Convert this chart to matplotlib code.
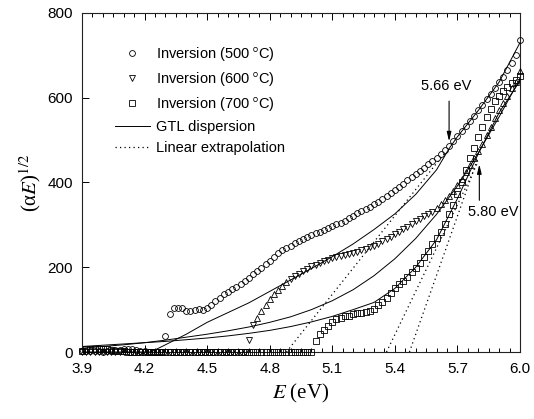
import numpy as np
import matplotlib.pyplot as plt
from matplotlib.font_manager import FontProperties
from matplotlib.lines import Line2D

plt.rcParams['font.family'] = ['Liberation Sans', 'DejaVu Sans']

# photon energy grid of the measured points (eV)
energy = [3.90, 3.92, 3.94, 3.96, 3.98, 4.00, 4.02, 4.04, 4.06, 4.08,
          4.10, 4.12, 4.14, 4.16, 4.18, 4.20, 4.22, 4.24, 4.26, 4.28,
          4.30, 4.32, 4.34, 4.36, 4.38, 4.40, 4.42, 4.44, 4.46, 4.48,
          4.50, 4.52, 4.54, 4.56, 4.58, 4.60, 4.62, 4.64, 4.66, 4.68,
          4.70, 4.72, 4.74, 4.76, 4.78, 4.80, 4.82, 4.84, 4.86, 4.88,
          4.90, 4.92, 4.94, 4.96, 4.98, 5.00, 5.02, 5.04, 5.06, 5.08,
          5.10, 5.12, 5.14, 5.16, 5.18, 5.20, 5.22, 5.24, 5.26, 5.28,
          5.30, 5.32, 5.34, 5.36, 5.38, 5.40, 5.42, 5.44, 5.46, 5.48,
          5.50, 5.52, 5.54, 5.56, 5.58, 5.60, 5.62, 5.64, 5.66, 5.68,
          5.70, 5.72, 5.74, 5.76, 5.78, 5.80, 5.82, 5.84, 5.86, 5.88,
          5.90, 5.92, 5.94, 5.96, 5.98, 6.00]

# (alpha E)^1/2 from inversion
inv_500 = [2, 3, 3, 2, 2, 1, 2, 3, 4, 5,
           6, 7, 8, 5, 3, 2, 1, 1, 0, 0,
           37, 89, 103, 104, 103, 97, 97, 100, 102, 100,
           103, 112, 120, 128, 136, 142, 148, 154, 161, 167,
           175, 183, 191, 199, 207, 215, 225, 233, 240, 246,
           251, 257, 262, 267, 271, 276, 280, 284, 288, 292,
           297, 301, 305, 310, 316, 322, 327, 332, 338, 343,
           349, 355, 361, 368, 375, 382, 389, 397, 405, 412,
           420, 428, 435, 443, 450, 458, 467, 476, 487, 498,
           509, 521, 533, 545, 557, 570, 583, 596, 609, 622,
           636, 650, 665, 682, 702, 737]

inv_600 = [0, 0, 0, 0, 0, 0, 0, 0, 0, 0,
           0, 0, 0, 0, 0, 0, 0, 0, 0, 0,
           0, 0, 0, 0, 0, 0, 0, 0, 0, 0,
           0, 0, 0, 0, 0, 0, 0, 0, 0, 0,
           28, 63, 81, 97, 112, 124, 136, 146, 156, 165,
           173, 179, 185, 191, 196, 202, 206, 210, 214, 218,
           221, 225, 227, 229, 232, 234, 237, 240, 243, 247,
           251, 256, 261, 267, 272, 278, 284, 290, 296, 302,
           308, 314, 320, 326, 331, 340, 350, 358, 368, 380,
           393, 408, 424, 441, 457, 474, 492, 512, 532, 552,
           570, 588, 605, 622, 638, 662]

inv_700 = [3, 6, 8, 8, 8, 7, 6, 4, 3, 2,
           2, 1, 1, 1, 1, 1, 0, 0, 0, 0,
           0, 0, 0, 0, 0, 0, 0, 0, 0, 0,
           0, 0, 0, 0, 0, 0, 0, 0, 0, 0,
           0, 0, 0, 0, 0, 0, 0, 0, 0, 0,
           0, 0, 0, 0, 0, 0, 25, 42, 53, 62,
           70, 77, 81, 84, 86, 89, 91, 93, 94, 97,
           102, 110, 119, 128, 140, 152, 160, 168, 177, 188,
           199, 211, 225, 239, 254, 268, 283, 302, 325, 348,
           374, 402, 430, 458, 482, 507, 531, 554, 574, 592,
           605, 616, 626, 635, 643, 651]

# GTL dispersion fits
gtl_500_E = [3.90, 4.23, 4.30, 4.40, 4.50, 4.60, 4.70, 4.80, 4.90, 5.00,
             5.10, 5.20, 5.30, 5.40, 5.50, 5.60, 5.66, 5.70, 5.80, 5.90, 6.00]
gtl_500 = [0, 0, 17, 42, 70, 93, 116, 143, 170, 197,
           225, 255, 289, 326, 372, 430, 480, 508, 570, 637, 730]

gtl_600_E = [3.90, 4.00, 4.10, 4.20, 4.30, 4.40, 4.50, 4.60, 4.70, 4.80,
             4.90, 5.00, 5.10, 5.20, 5.30, 5.40, 5.50, 5.60, 5.70, 5.75,
             5.80, 5.90, 6.00]
gtl_600 = [9, 13, 17, 22, 28, 35, 42, 50, 59, 70,
           83, 100, 121, 147, 180, 220, 268, 325, 392, 430,
           470, 555, 645]

gtl_700_E = [3.90, 4.00, 4.10, 4.20, 4.30, 4.40, 4.50, 4.60, 4.70, 4.80,
             4.90, 5.00, 5.10, 5.20, 5.30, 5.40, 5.50, 5.60, 5.70, 5.80,
             5.90, 6.00]
gtl_700 = [13, 16, 19, 22, 25, 29, 33, 38, 44, 51,
           60, 71, 84, 100, 117, 150, 200, 265, 362, 468,
           565, 640]

# linear extrapolations (Tauc lines)
lin_500_E = [4.88, 5.64]
lin_500 = [0, 470]
lin_600_E = [5.36, 5.80]
lin_600 = [0, 450]
lin_700_E = [5.47, 5.80]
lin_700 = [0, 460]

labels = ['Inversion (500 $^{\\rm o}$C)', 'Inversion (600 $^{\\rm o}$C)',
          'Inversion (700 $^{\\rm o}$C)', 'GTL dispersion', 'Linear extrapolation']

fig = plt.figure(figsize=(5.34, 4.19), dpi=100)
ax = fig.add_axes([82 / 534, 1 - 352 / 419, 438 / 534, 339 / 419])

lw_fit = 0.7
for e, v in [(gtl_500_E, gtl_500), (gtl_600_E, gtl_600), (gtl_700_E, gtl_700)]:
    ax.plot(e, v, color='k', lw=lw_fit, zorder=2)
dots = (0, (1, 2.6))
for e, v in [(lin_500_E, lin_500), (lin_600_E, lin_600), (lin_700_E, lin_700)]:
    ax.plot(e, v, color='k', lw=0.9, linestyle=dots, zorder=2)

E = np.array(energy)
mk = dict(mfc='none', mec='k', mew=0.6, ls='none', clip_on=False, zorder=3)
ax.plot(E, inv_500, marker='o', ms=4.2, **mk)
ax.plot(E, inv_700, marker='s', ms=3.9, **mk)
# triangles read as pointing up on the steep parts
up = ((E > 4.735) & (E < 4.885)) | (E > 5.595)
v600 = np.array(inv_600)
ax.plot(E[~up], v600[~up], marker='v', ms=4.1, **mk)
ax.plot(E[up], v600[up], marker='^', ms=4.1, **mk)

ax.set_xlim(3.9, 6.0)
ax.set_ylim(0, 800)
ax.set_xticks([3.9, 4.2, 4.5, 4.8, 5.1, 5.4, 5.7, 6.0])
ax.set_xticklabels(['3.9', '4.2', '4.5', '4.8', '5.1', '5.4', '5.7', '6.0'])
ax.set_xticks(np.arange(3.9, 6.001, 0.05), minor=True)
ax.set_yticks([0, 200, 400, 600, 800])
ax.tick_params(which='both', direction='in', top=True, right=False, labelsize=11,
               width=0.7, colors='k')
ax.tick_params(which='major', length=5)
ax.tick_params(axis='x', which='major', pad=7.5)
ax.tick_params(axis='y', which='major', pad=6.5)
ax.tick_params(which='minor', length=3)
for s in ax.spines.values():
    s.set_linewidth(0.8)
    s.set_color('#222222')

ax.set_xlabel('$E$ (eV)', family='Liberation Serif', fontsize=15,
              math_fontfamily='stix', labelpad=4)
ax.set_ylabel('(α$E$)$^{\\mathit{1/2}}$', family='Liberation Serif', fontsize=15,
              math_fontfamily='stix', labelpad=3)

hs = [Line2D([], [], marker='o', ms=4.2, mfc='none', mec='k', mew=0.6, ls='none'),
      Line2D([], [], marker='v', ms=4.1, mfc='none', mec='k', mew=0.6, ls='none'),
      Line2D([], [], marker='s', ms=3.9, mfc='none', mec='k', mew=0.6, ls='none'),
      Line2D([], [], color='k', lw=lw_fit),
      Line2D([], [], color='k', lw=0.9, linestyle=dots)]
ax.legend(hs, labels, loc='upper left', bbox_to_anchor=(0.075, 0.905), frameon=False,
          handlelength=2.4, handletextpad=0.45, labelspacing=0.47, borderpad=0,
          borderaxespad=0, numpoints=1,
          prop=FontProperties(family='Liberation Sans', size=10.5,
                              math_fontfamily='stixsans'))

arr = dict(arrowstyle='-|>,head_length=0.55,head_width=0.13', color='k', lw=0.8,
           shrinkA=0, shrinkB=0)
ax.annotate('', xy=(5.66, 497), xytext=(5.66, 592), arrowprops=arr)
ax.text(5.645, 628, '5.66 eV', ha='center', va='center', fontsize=10.5)
ax.annotate('', xy=(5.805, 443), xytext=(5.805, 358), arrowprops=arr)
ax.text(5.87, 330, '5.80 eV', ha='center', va='center', fontsize=10.5)

fig.savefig('out.png', dpi=100)
